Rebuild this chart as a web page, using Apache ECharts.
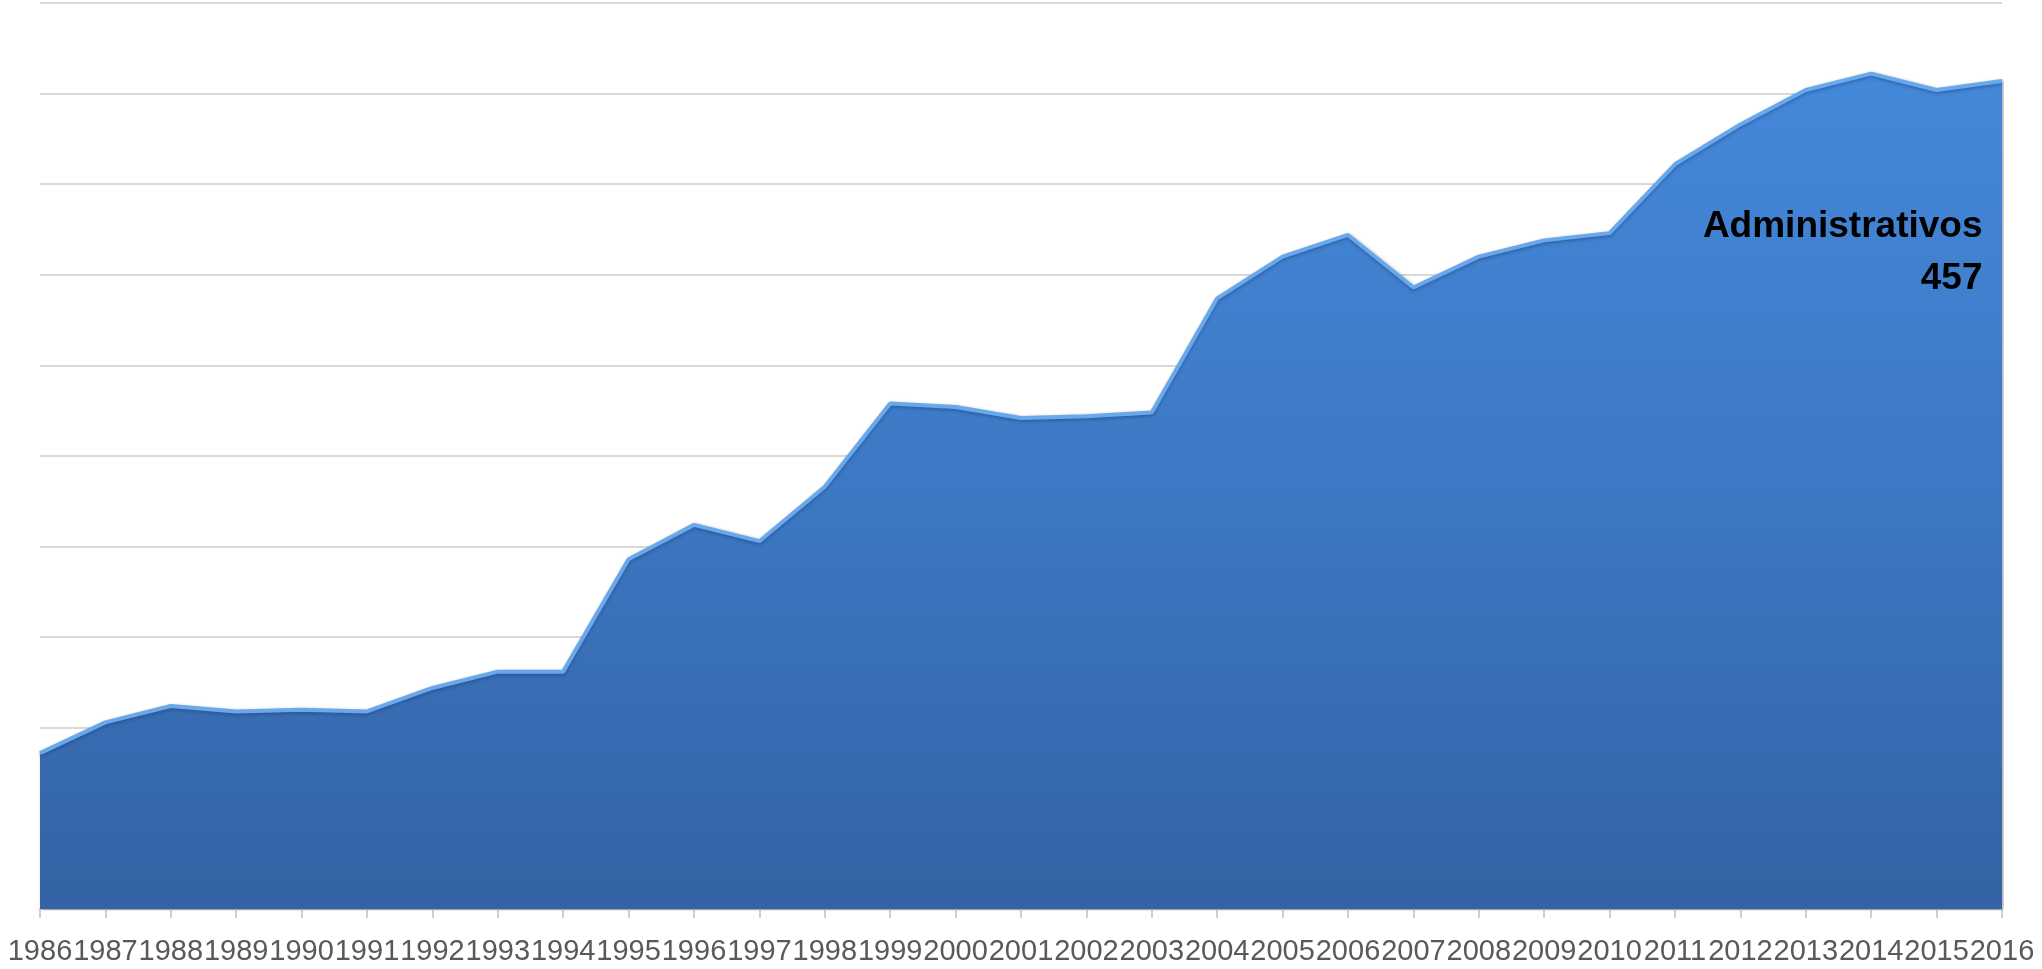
<!DOCTYPE html>
<html>
<head>
<meta charset="utf-8">
<script src="https://cdn.jsdelivr.net/npm/echarts@6/dist/echarts.min.js"></script>
<style>
html,body{margin:0;padding:0;background:#fff;}
#chart{width:2042px;height:969px;}
</style>
</head>
<body>
<div id="chart"></div>
<script>
const years = ['1986','1987','1988','1989','1990','1991','1992','1993','1994','1995','1996','1997','1998','1999','2000','2001','2002','2003','2004','2005','2006','2007','2008','2009','2010','2011','2012','2013','2014','2015','2016'];
const administrativos = [86,103,112,109,110,109,122,131,131,193,212,203,233,279,277,271,272,274,337,360,372,343,360,369,373,411,433,452,461,452,457];
const seriesName = 'Administrativos';
const yMin = 0, yMax = 500, yStep = 50;

const chart = echarts.init(document.getElementById('chart'));
const lastIdx = years.length - 1;
chart.setOption({
  animation: false,
  backgroundColor: '#ffffff',
  grid: {left: 40, right: 40, top: 3, bottom: 60, containLabel: false},
  xAxis: {
    type: 'category',
    data: years,
    boundaryGap: false,
    axisLine: {show: true, lineStyle: {color: '#bfbfbf', width: 2}},
    axisTick: {show: true, alignWithLabel: true, length: 9, lineStyle: {color: '#d0d0d0', width: 2}},
    axisLabel: {color: '#595959', fontSize: 29, fontFamily: 'Liberation Sans, Arial, sans-serif', margin: 28, interval: 0},
    splitLine: {show: false}
  },
  yAxis: {
    type: 'value',
    min: yMin, max: yMax, interval: yStep,
    axisLine: {show: false},
    axisTick: {show: false},
    axisLabel: {show: false},
    splitLine: {show: true, lineStyle: {color: '#d9d9d9', width: 2}}
  },
  series: [{
    name: seriesName,
    type: 'line',
    data: administrativos,
    symbol: 'none',
    lineStyle: {color: '#6aa8ec', width: 4, shadowColor: 'rgba(20,50,100,0.35)', shadowBlur: 3, shadowOffsetY: 2},
    areaStyle: {
      opacity: 1,
      color: new echarts.graphic.LinearGradient(0, 0, 0, 1, [
        {offset: 0, color: '#4488da'},
        {offset: 0.5, color: '#3c78c3'},
        {offset: 1, color: '#3462a4'}
      ]),
      shadowColor: 'rgba(0,0,0,0.35)', shadowBlur: 4, shadowOffsetX: 2
    },
    markPoint: {
      symbol: 'circle',
      symbolSize: 1,
      itemStyle: {color: 'rgba(0,0,0,0)'},
      data: [{coord: [years[lastIdx], administrativos[lastIdx]], value: administrativos[lastIdx]}],
      label: {
        show: true,
        position: 'left',
        distance: 19,
        offset: [0, 172],
        align: 'right',
        formatter: function(p){ return seriesName + '\n' + p.value; },
        color: '#000000',
        fontSize: 37,
        fontWeight: 'bold',
        fontFamily: 'Liberation Sans, Arial, sans-serif',
        lineHeight: 52
      }
    }
  }]
});
</script>
</body>
</html>
